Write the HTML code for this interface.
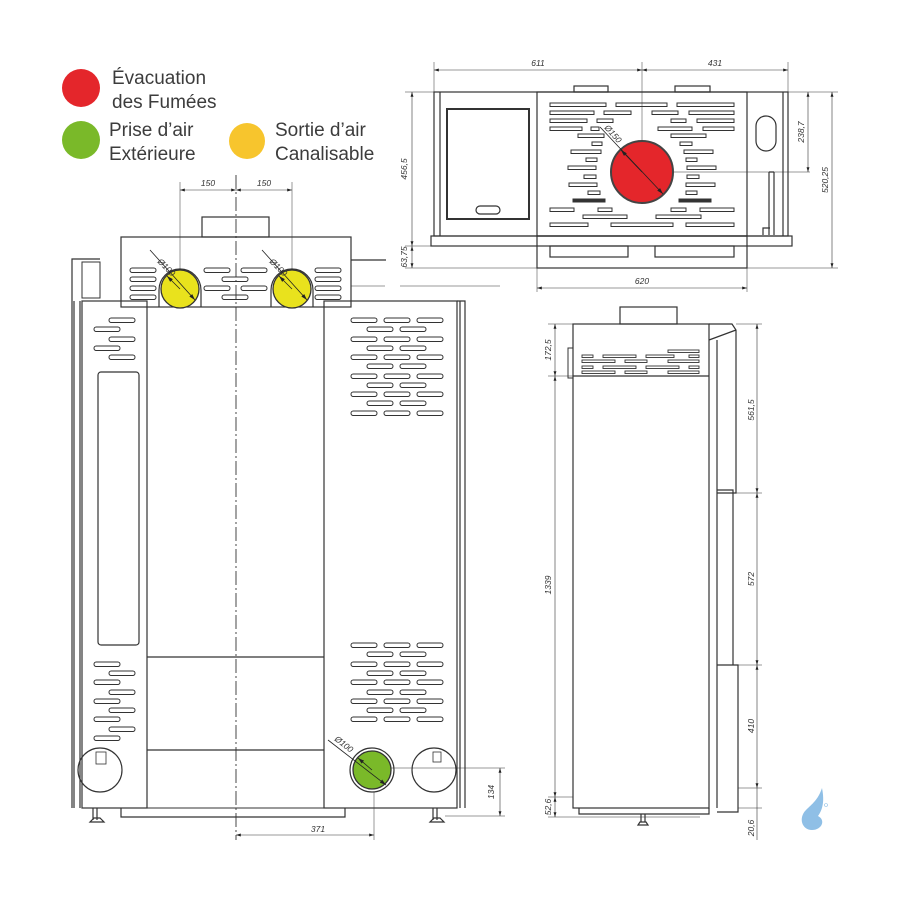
<!DOCTYPE html>
<html><head><meta charset="utf-8"><style>
html,body{margin:0;padding:0;background:#fff;}
svg{display:block;}
.t{font-family:"Liberation Sans",sans-serif;}
.dim{font-family:"Liberation Sans",sans-serif;font-size:8.5px;font-style:italic;fill:#333;}
</style></head><body>
<svg width="900" height="900" viewBox="0 0 900 900" xmlns="http://www.w3.org/2000/svg">
<defs>
<marker id="a" viewBox="0 0 10 6" refX="10" refY="3" markerWidth="8" markerHeight="5" orient="auto-start-reverse"><path d="M0,0L10,3L0,6z" fill="#222"/></marker>
<rect id="v" width="26" height="4.5" rx="2.2" fill="#fff" stroke="#333" stroke-width="1"/>
</defs>
<rect width="900" height="900" fill="#fff"/>

<!-- Legend -->
<circle cx="81" cy="88" r="19" fill="#e4262b"/>
<circle cx="81" cy="140" r="19" fill="#7ab929"/>
<circle cx="247" cy="141" r="18" fill="#f7c52d"/>
<g class="t" font-size="19" fill="#3c3c3c">
<text x="112" y="84">Évacuation</text>
<text x="112" y="108">des Fumées</text>
<text x="109" y="136">Prise d’air</text>
<text x="109" y="160">Extérieure</text>
<text x="275" y="136">Sortie d’air</text>
<text x="275" y="160">Canalisable</text>
</g>

<g fill="none" stroke="#333" stroke-width="1.2">
<!-- ===== FRONT VIEW ===== -->
<!-- dims top -->
<line x1="180" y1="182" x2="180" y2="290" stroke-width="0.5"/>
<line x1="292" y1="182" x2="292" y2="290" stroke-width="0.5"/>
<line x1="180" y1="190" x2="236" y2="190" stroke-width="0.6" marker-start="url(#a)" marker-end="url(#a)"/>
<line x1="236" y1="190" x2="292" y2="190" stroke-width="0.6" marker-start="url(#a)" marker-end="url(#a)"/>
<!-- chimney & top box -->
<rect x="202" y="217" width="67" height="20"/>
<rect x="121" y="237" width="230" height="70"/>
<line x1="351" y1="260" x2="386" y2="260"/>
<line x1="351" y1="286" x2="385" y2="286" stroke-width="0.5"/>
<!-- top box vents -->
<use href="#v" x="130" y="268"/><use href="#v" x="130" y="277"/><use href="#v" x="130" y="286"/><use href="#v" x="130" y="295"/>
<use href="#v" x="204" y="268"/><use href="#v" x="222" y="277"/><use href="#v" x="204" y="286"/><use href="#v" x="222" y="295"/>
<use href="#v" x="241" y="268"/><use href="#v" x="241" y="286"/>
<use href="#v" x="315" y="268"/><use href="#v" x="315" y="277"/><use href="#v" x="315" y="286"/><use href="#v" x="315" y="295"/>
<path d="M159,307 V290 A21,21 0 0 1 201,290 V307"/>
<path d="M271,307 V290 A21,21 0 0 1 313,290 V307"/>
<!-- left side frame -->
<path d="M72,808 V259 H100 M74,808 V301 M80,808 V301"/>
<rect x="82" y="262" width="18" height="36" stroke-width="1"/>
<rect x="82" y="301" width="65" height="507"/>
<rect x="147" y="307" width="177" height="501" stroke-width="1"/>
<rect x="324" y="301" width="133" height="507"/>
<path d="M457,301 H465 V808 M460,301 V808"/>
<rect x="98" y="372" width="41" height="273" rx="3"/>
<line x1="147" y1="657" x2="324" y2="657"/>
<line x1="147" y1="750" x2="324" y2="750"/>
<!-- bottom rail -->
<path d="M121,808 V817 H345 V808"/>
<path d="M93,808 V820 M97,808 V820 M90,822 H104 L100,818 H94 Z M433,808 V820 M437,808 V820 M430,822 H444 L440,818 H434 Z"/>
<!-- left panel vents -->
<use href="#v" x="109" y="318"/><use href="#v" x="94" y="327"/><use href="#v" x="109" y="337"/><use href="#v" x="94" y="346"/><use href="#v" x="109" y="355"/>
<use href="#v" x="94" y="662"/><use href="#v" x="109" y="671"/><use href="#v" x="94" y="680"/><use href="#v" x="109" y="690"/><use href="#v" x="94" y="699"/><use href="#v" x="109" y="708"/><use href="#v" x="94" y="717"/><use href="#v" x="109" y="727"/><use href="#v" x="94" y="736"/>
<!-- right panel upper vents -->
<g>
<use href="#v" x="351" y="318"/><use href="#v" x="384" y="318"/><use href="#v" x="417" y="318"/>
<use href="#v" x="367" y="327"/><use href="#v" x="400" y="327"/>
<use href="#v" x="351" y="337"/><use href="#v" x="384" y="337"/><use href="#v" x="417" y="337"/>
<use href="#v" x="367" y="346"/><use href="#v" x="400" y="346"/>
<use href="#v" x="351" y="355"/><use href="#v" x="384" y="355"/><use href="#v" x="417" y="355"/>
<use href="#v" x="367" y="364"/><use href="#v" x="400" y="364"/>
<use href="#v" x="351" y="374"/><use href="#v" x="384" y="374"/><use href="#v" x="417" y="374"/>
<use href="#v" x="367" y="383"/><use href="#v" x="400" y="383"/>
<use href="#v" x="351" y="392"/><use href="#v" x="384" y="392"/><use href="#v" x="417" y="392"/>
<use href="#v" x="367" y="401"/><use href="#v" x="400" y="401"/>
<use href="#v" x="351" y="411"/><use href="#v" x="384" y="411"/><use href="#v" x="417" y="411"/>
</g>
<g>
<use href="#v" x="351" y="643"/><use href="#v" x="384" y="643"/><use href="#v" x="417" y="643"/>
<use href="#v" x="367" y="652"/><use href="#v" x="400" y="652"/>
<use href="#v" x="351" y="662"/><use href="#v" x="384" y="662"/><use href="#v" x="417" y="662"/>
<use href="#v" x="367" y="671"/><use href="#v" x="400" y="671"/>
<use href="#v" x="351" y="680"/><use href="#v" x="384" y="680"/><use href="#v" x="417" y="680"/>
<use href="#v" x="367" y="690"/><use href="#v" x="400" y="690"/>
<use href="#v" x="351" y="699"/><use href="#v" x="384" y="699"/><use href="#v" x="417" y="699"/>
<use href="#v" x="367" y="708"/><use href="#v" x="400" y="708"/>
<use href="#v" x="351" y="717"/><use href="#v" x="384" y="717"/><use href="#v" x="417" y="717"/>
</g>
<!-- bottom circles -->
<circle cx="100" cy="770" r="22"/>
<rect x="96" y="752" width="10" height="12" stroke-width="0.8"/>
<circle cx="434" cy="770" r="22"/>
<rect x="433" y="752" width="8" height="10" stroke-width="0.8"/>
<circle cx="372" cy="770" r="22" fill="#fff"/>
<!-- centerline -->
<line x1="236" y1="175" x2="236" y2="840" stroke-width="0.9" stroke-dasharray="14,3,2,3"/>
<!-- dims bottom -->
<line x1="374" y1="792" x2="374" y2="840" stroke-width="0.5"/>
<line x1="236" y1="835" x2="374" y2="835" stroke-width="0.6" marker-start="url(#a)" marker-end="url(#a)"/>
<line x1="374" y1="768" x2="505" y2="768" stroke-width="0.5"/>
<line x1="445" y1="816" x2="505" y2="816" stroke-width="0.5"/>
<line x1="500" y1="768" x2="500" y2="816" stroke-width="0.6" marker-start="url(#a)" marker-end="url(#a)"/>

<!-- ===== TOP VIEW ===== -->
<line x1="434" y1="62" x2="434" y2="92" stroke-width="0.5"/>
<line x1="788" y1="62" x2="788" y2="92" stroke-width="0.5"/>
<line x1="642" y1="62" x2="642" y2="172" stroke-width="0.5"/>
<line x1="434" y1="70" x2="642" y2="70" stroke-width="0.6" marker-start="url(#a)" marker-end="url(#a)"/>
<line x1="642" y1="70" x2="788" y2="70" stroke-width="0.6" marker-start="url(#a)" marker-end="url(#a)"/>
<rect x="434" y="92" width="354" height="144"/>
<line x1="440" y1="92" x2="440" y2="236"/>
<line x1="783" y1="92" x2="783" y2="236"/>
<rect x="537" y="92" width="210" height="144"/>
<rect x="574" y="86" width="34" height="6"/><rect x="675" y="86" width="35" height="6"/>
<rect x="447" y="109" width="82" height="110" stroke-width="2"/>
<rect x="476" y="206" width="24" height="8" rx="4"/>
<rect x="431" y="236" width="361" height="10"/>
<rect x="537" y="236" width="210" height="32"/>
<rect x="550" y="246" width="78" height="11"/><rect x="655" y="246" width="79" height="11"/>
<rect x="756" y="116" width="20" height="35" rx="10"/>
<path d="M769,172 V235 M774,172 V235 M769,172 H774 M763,235 V228 H770"/>
<g stroke-width="1">
<rect x="550" y="103" width="56" height="3.5"/><rect x="616" y="103" width="51" height="3.5"/><rect x="677" y="103" width="57" height="3.5"/>
<rect x="550" y="111" width="44" height="3.5"/><rect x="604" y="111" width="27" height="3.5"/><rect x="652" y="111" width="26" height="3.5"/><rect x="689" y="111" width="45" height="3.5"/>
<rect x="550" y="119" width="37" height="3.5"/><rect x="597" y="119" width="16" height="3.5"/><rect x="671" y="119" width="15" height="3.5"/><rect x="697" y="119" width="37" height="3.5"/>
<rect x="550" y="127" width="32" height="3.5"/><rect x="591" y="127" width="8" height="3.5"/><rect x="658" y="127" width="34" height="3.5"/><rect x="703" y="127" width="31" height="3.5"/>
<rect x="578" y="134" width="26" height="3.5"/><rect x="671" y="134" width="35" height="3.5"/>
<rect x="592" y="142" width="10" height="3.5"/><rect x="680" y="142" width="12" height="3.5"/>
<rect x="571" y="150" width="30" height="3.5"/><rect x="684" y="150" width="29" height="3.5"/>
<rect x="586" y="158" width="11" height="3.5"/><rect x="686" y="158" width="11" height="3.5"/>
<rect x="568" y="166" width="28" height="3.5"/><rect x="687" y="166" width="29" height="3.5"/>
<rect x="584" y="175" width="12" height="3.5"/><rect x="687" y="175" width="12" height="3.5"/>
<rect x="569" y="183" width="28" height="3.5"/><rect x="686" y="183" width="29" height="3.5"/>
<rect x="588" y="191" width="12" height="3.5"/><rect x="686" y="191" width="11" height="3.5"/>
<rect x="573" y="199" width="32" height="3" fill="#333"/><rect x="679" y="199" width="32" height="3" fill="#333"/>
<rect x="550" y="208" width="24" height="3.5"/><rect x="598" y="208" width="14" height="3.5"/><rect x="671" y="208" width="15" height="3.5"/><rect x="700" y="208" width="34" height="3.5"/>
<rect x="583" y="215" width="44" height="3.5"/><rect x="656" y="215" width="45" height="3.5"/>
<rect x="550" y="223" width="38" height="3.5"/><rect x="611" y="223" width="62" height="3.5"/><rect x="686" y="223" width="48" height="3.5"/>
</g>
<line x1="642" y1="172" x2="810" y2="172" stroke-width="0.5"/>
<line x1="788" y1="92" x2="838" y2="92" stroke-width="0.5"/>
<line x1="747" y1="268" x2="838" y2="268" stroke-width="0.5"/>
<line x1="808" y1="92" x2="808" y2="172" stroke-width="0.6" marker-start="url(#a)" marker-end="url(#a)"/>
<line x1="832" y1="92" x2="832" y2="268" stroke-width="0.6" marker-start="url(#a)" marker-end="url(#a)"/>
<line x1="405" y1="92" x2="434" y2="92" stroke-width="0.5"/>
<line x1="405" y1="246" x2="431" y2="246" stroke-width="0.5"/>
<line x1="405" y1="268" x2="537" y2="268" stroke-width="0.5"/>
<line x1="412" y1="92" x2="412" y2="246" stroke-width="0.6" marker-start="url(#a)" marker-end="url(#a)"/>
<line x1="412" y1="246" x2="412" y2="268" stroke-width="0.6" marker-start="url(#a)" marker-end="url(#a)"/>
<line x1="537" y1="268" x2="537" y2="292" stroke-width="0.5"/>
<line x1="747" y1="268" x2="747" y2="292" stroke-width="0.5"/>
<line x1="537" y1="288" x2="747" y2="288" stroke-width="0.6" marker-start="url(#a)" marker-end="url(#a)"/>
<line x1="400" y1="286" x2="500" y2="286" stroke-width="0.5"/>

<!-- ===== SIDE VIEW ===== -->
<rect x="620" y="307" width="57" height="17"/>
<rect x="573" y="324" width="136" height="484"/>
<line x1="573" y1="376" x2="709" y2="376"/>
<rect x="568" y="348" width="5" height="30" stroke-width="1"/>
<path d="M709,324 H732 L736,330 V493 H717 M709,340 L736,330 M717,340 V808 M717,490 H733 V665 H717 M717,665 H738 V812 H717"/>
<path d="M579,808 V814 H709 V808"/>
<path d="M641,814 V822 M645,814 V822 M638,825 H648 L646,822 H640 Z"/>
<g stroke-width="0.9">
<rect x="582" y="355" width="11" height="2.5"/><rect x="603" y="355" width="33" height="2.5"/><rect x="646" y="355" width="28" height="2.5"/><rect x="689" y="355" width="10" height="2.5"/><rect x="668" y="350" width="31" height="2.5"/>
<rect x="582" y="360" width="33" height="2.5"/><rect x="625" y="360" width="22" height="2.5"/><rect x="668" y="360" width="31" height="2.5"/>
<rect x="582" y="366" width="11" height="2.5"/><rect x="603" y="366" width="33" height="2.5"/><rect x="646" y="366" width="33" height="2.5"/><rect x="689" y="366" width="10" height="2.5"/>
<rect x="582" y="371" width="33" height="2.5"/><rect x="625" y="371" width="22" height="2.5"/><rect x="668" y="371" width="31" height="2.5"/>
</g>
<line x1="548" y1="324" x2="573" y2="324" stroke-width="0.5"/>
<line x1="548" y1="376" x2="573" y2="376" stroke-width="0.5"/>
<line x1="548" y1="797" x2="573" y2="797" stroke-width="0.5"/>
<line x1="548" y1="817" x2="700" y2="817" stroke-width="0.5"/>
<line x1="555" y1="324" x2="555" y2="376" stroke-width="0.6" marker-start="url(#a)" marker-end="url(#a)"/>
<line x1="555" y1="376" x2="555" y2="797" stroke-width="0.6" marker-start="url(#a)" marker-end="url(#a)"/>
<line x1="555" y1="797" x2="555" y2="817" stroke-width="0.6" marker-start="url(#a)" marker-end="url(#a)"/>
<line x1="736" y1="324" x2="762" y2="324" stroke-width="0.5"/>
<line x1="733" y1="493" x2="762" y2="493" stroke-width="0.5"/>
<line x1="733" y1="665" x2="762" y2="665" stroke-width="0.5"/>
<line x1="738" y1="788" x2="762" y2="788" stroke-width="0.5"/>
<line x1="738" y1="808" x2="762" y2="808" stroke-width="0.5"/>
<line x1="757" y1="324" x2="757" y2="493" stroke-width="0.6" marker-start="url(#a)" marker-end="url(#a)"/>
<line x1="757" y1="493" x2="757" y2="665" stroke-width="0.6" marker-start="url(#a)" marker-end="url(#a)"/>
<line x1="757" y1="665" x2="757" y2="788" stroke-width="0.6" marker-start="url(#a)" marker-end="url(#a)"/>
<line x1="757" y1="788" x2="757" y2="840" stroke-width="0.6"/>
</g>

<!-- colored circles -->
<circle cx="180" cy="289" r="19" fill="#e9e21d" stroke="#333" stroke-width="1.3"/>
<circle cx="292" cy="289" r="19" fill="#e9e21d" stroke="#333" stroke-width="1.3"/>
<circle cx="372" cy="770" r="19" fill="#7ab929" stroke="#333" stroke-width="1.3"/>
<circle cx="642" cy="172" r="31" fill="#e4262b" stroke="#444" stroke-width="2"/>
<g stroke="#222" stroke-width="0.8" fill="none">
<line x1="150" y1="250" x2="195" y2="300" marker-end="url(#a)"/><line x1="180" y1="289" x2="167" y2="276" marker-end="url(#a)"/>
<line x1="262" y1="250" x2="307" y2="300" marker-end="url(#a)"/><line x1="292" y1="289" x2="279" y2="276" marker-end="url(#a)"/>
<line x1="328" y1="740" x2="386" y2="785" marker-end="url(#a)"/><line x1="372" y1="770" x2="358" y2="758" marker-end="url(#a)"/>
<line x1="600" y1="127" x2="663" y2="194" marker-end="url(#a)"/><line x1="642" y1="172" x2="621" y2="150" marker-end="url(#a)"/>
</g>

<!-- dim labels -->
<g class="dim">
<text x="208" y="186" text-anchor="middle">150</text>
<text x="264" y="186" text-anchor="middle">150</text>
<text x="318" y="832" text-anchor="middle">371</text>
<text x="538" y="66" text-anchor="middle">611</text>
<text x="715" y="66" text-anchor="middle">431</text>
<text x="642" y="284" text-anchor="middle">620</text>
<text transform="translate(494,792) rotate(-90)" text-anchor="middle">134</text>
<text transform="translate(407,169) rotate(-90)" text-anchor="middle">456,5</text>
<text transform="translate(407,257) rotate(-90)" text-anchor="middle">63,75</text>
<text transform="translate(804,132) rotate(-90)" text-anchor="middle">238,7</text>
<text transform="translate(828,180) rotate(-90)" text-anchor="middle">520,25</text>
<text transform="translate(551,350) rotate(-90)" text-anchor="middle">172,5</text>
<text transform="translate(551,585) rotate(-90)" text-anchor="middle">1339</text>
<text transform="translate(551,807) rotate(-90)" text-anchor="middle">52,6</text>
<text transform="translate(754,410) rotate(-90)" text-anchor="middle">561,5</text>
<text transform="translate(754,579) rotate(-90)" text-anchor="middle">572</text>
<text transform="translate(754,726) rotate(-90)" text-anchor="middle">410</text>
<text transform="translate(754,828) rotate(-90)" text-anchor="middle">20,6</text>
<text transform="translate(157,262) rotate(45)">Ø100</text>
<text transform="translate(269,262) rotate(45)">Ø100</text>
<text transform="translate(334,740) rotate(38)">Ø100</text>
<text transform="translate(604,128) rotate(48)">Ø150</text>
</g>

<!-- logo -->
<path d="M822,788 C818,800 812,804 806,810 C798,818 802,830 812,830 C822,830 826,820 818,816 C824,808 824,798 822,788 Z" fill="#8fbfe6"/>
<circle cx="826" cy="805" r="1.5" fill="none" stroke="#8fbfe6" stroke-width="0.6"/>
</svg>
</body></html>
